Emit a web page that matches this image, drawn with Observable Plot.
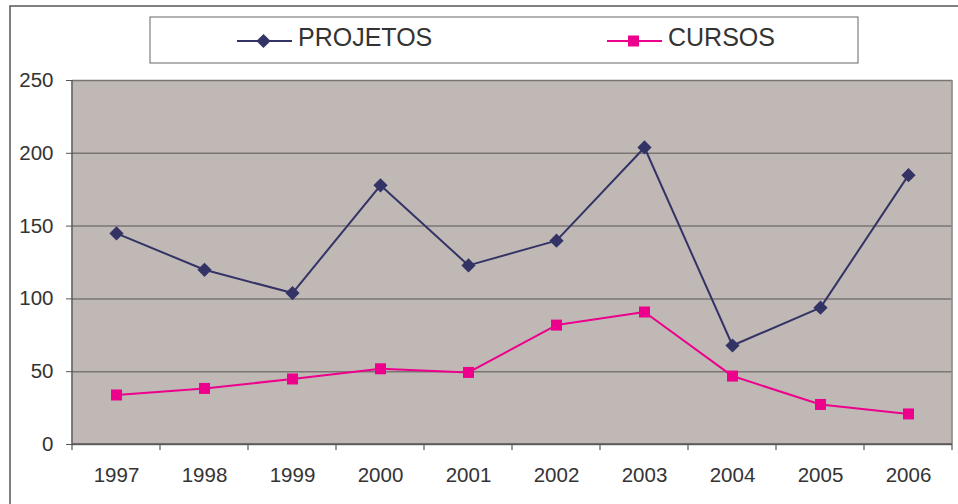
<!DOCTYPE html>
<html>
<head>
<meta charset="utf-8">
<script src="https://cdn.jsdelivr.net/npm/d3@7"></script>
<script src="https://cdn.jsdelivr.net/npm/@observablehq/plot@0.6"></script>
<style>
  html, body { margin: 0; padding: 0; background: #fff; }
  #chart svg { display: block; font-family: "Liberation Sans", Arial, sans-serif; }
</style>
</head>
<body>
<div id="chart"></div>
<script>
const years = ["1997","1998","1999","2000","2001","2002","2003","2004","2005","2006"];
const projetos = [145, 120, 104, 178, 123, 140, 204, 68, 94, 185];
const cursos = [34, 38.5, 45, 52, 49.5, 82, 91, 47, 27.5, 21];
const yTicks = [0, 50, 100, 150, 200, 250];
const seriesNames = ["PROJETOS", "CURSOS"];
const seriesColors = ["#333366", "#ec008c"];

const projData = years.map((y, i) => ({year: y, value: projetos[i]}));
const cursData = years.map((y, i) => ({year: y, value: cursos[i]}));

const plot = Plot.plot({
  width: 958,
  height: 504,
  marginLeft: 72,
  marginRight: 6,
  marginTop: 80,
  marginBottom: 60,
  style: {fontFamily: "Liberation Sans, Arial, sans-serif", color: "#333", background: "#fff"},
  x: {type: "band", domain: years, padding: 0, label: null},
  y: {domain: [0, 250], label: null},
  marks: [
    Plot.frame({fill: "#c0b8b5", stroke: null}),
    Plot.ruleY(yTicks, {stroke: "#7a7573", strokeWidth: 1.5}),
    Plot.axisY(yTicks, {tickSize: 6, tickPadding: 13, fontSize: 20.5, stroke: "#555", fill: "#333", tickFormat: d => d, label: null}),
    Plot.axisX({tickSize: 0, tickPadding: 23, fontSize: 20.5, fill: "#333", label: null}),
    Plot.line(projData, {x: "year", y: "value", stroke: seriesColors[0], strokeWidth: 2}),
    Plot.dot(projData, {x: "year", y: "value", symbol: "diamond2", r: 6.4, fill: seriesColors[0], stroke: null}),
    Plot.line(cursData, {x: "year", y: "value", stroke: seriesColors[1], strokeWidth: 2}),
    Plot.dot(cursData, {x: "year", y: "value", symbol: "square", r: 6.2, fill: seriesColors[1], stroke: null})
  ]
});

document.getElementById("chart").appendChild(plot);

const svg = d3.select(plot);
const xs = plot.scale("x");
const ys = plot.scale("y");
const x0 = xs.range[0], x1 = xs.range[1];
const yTop = ys.apply(250), yBot = ys.apply(0);
const bw = xs.bandwidth;

// axis lines
svg.append("line").attr("x1", x0).attr("x2", x0).attr("y1", yTop).attr("y2", yBot)
  .attr("stroke", "#555").attr("stroke-width", 1.5);
svg.append("line").attr("x1", x1).attr("x2", x1).attr("y1", yTop).attr("y2", yBot)
  .attr("stroke", "#8f8785").attr("stroke-width", 1.5);
svg.append("line").attr("x1", x0).attr("x2", x1).attr("y1", yBot).attr("y2", yBot)
  .attr("stroke", "#555").attr("stroke-width", 1.5);
// x ticks at band boundaries
const bounds = years.map(y => xs.apply(y)).concat([xs.apply(years[years.length - 1]) + bw]);
svg.append("g").selectAll("line").data(bounds).join("line")
  .attr("x1", d => d).attr("x2", d => d).attr("y1", yBot).attr("y2", yBot + 6)
  .attr("stroke", "#555").attr("stroke-width", 1.2);

// outer chart border
svg.append("path").attr("d", "M958,6 H10 V504").attr("fill", "none")
  .attr("stroke", "#555").attr("stroke-width", 1.5);

// legend
const lg = svg.append("g");
lg.append("rect").attr("x", 150).attr("y", 17).attr("width", 708).attr("height", 46)
  .attr("fill", "#fff").attr("stroke", "#666").attr("stroke-width", 1);
const items = [
  {name: seriesNames[0], color: seriesColors[0], lx: 237, sym: d3.symbolDiamond2, size: Math.PI * 6.4 * 6.4},
  {name: seriesNames[1], color: seriesColors[1], lx: 607, sym: d3.symbolSquare, size: Math.PI * 6.2 * 6.2}
];
for (const it of items) {
  lg.append("line").attr("x1", it.lx).attr("x2", it.lx + 55).attr("y1", 41).attr("y2", 41)
    .attr("stroke", it.color).attr("stroke-width", 2);
  lg.append("path").attr("d", d3.symbol(it.sym, it.size)())
    .attr("transform", `translate(${it.lx + 26.5},41)`).attr("fill", it.color);
  lg.append("text").attr("x", it.lx + 61).attr("y", 46).text(it.name)
    .attr("text-anchor", "start").attr("font-size", 25).attr("fill", "#333");
}
</script>
</body>
</html>
